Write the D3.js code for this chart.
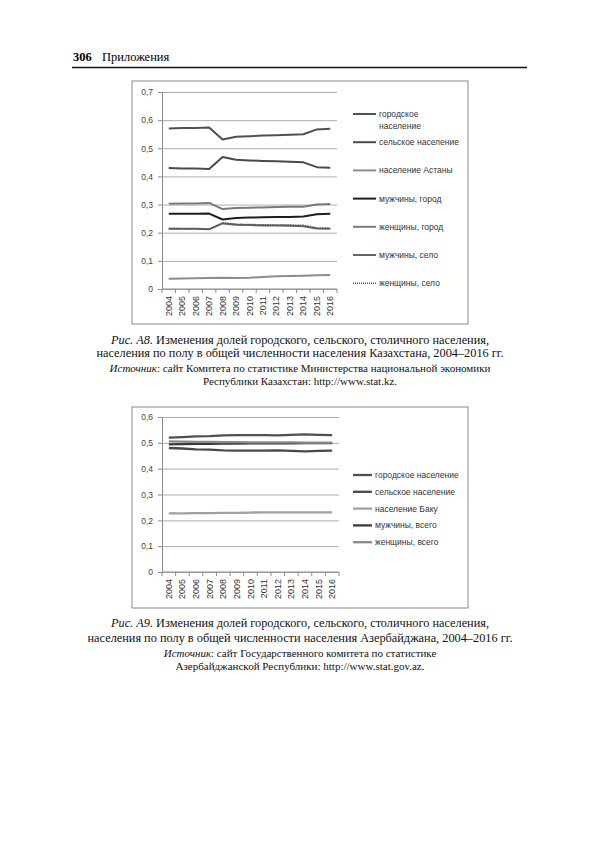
<!DOCTYPE html>
<html>
<head>
<meta charset="utf-8">
<script src="https://cdn.jsdelivr.net/npm/d3@7"></script>
<style>
  body { margin: 0; background: #fff; }
  svg { display: block; }
</style>
</head>
<body>
<script>
// Data
// =================================
var years = ['2004', '2005', '2006', '2007', '2008', '2009', '2010', '2011', '2012', '2013', '2014', '2015', '2016'];

// Kazakhstan
var kzUrban    = [0.570, 0.572, 0.572, 0.574, 0.531, 0.541, 0.543, 0.545, 0.546, 0.548, 0.550, 0.567, 0.569];
var kzRural    = [0.430, 0.428, 0.428, 0.426, 0.469, 0.459, 0.457, 0.455, 0.454, 0.452, 0.450, 0.433, 0.431];
var kzAstana   = [0.036, 0.037, 0.038, 0.039, 0.040, 0.039, 0.040, 0.043, 0.045, 0.046, 0.047, 0.049, 0.050];
var kzMenUrb   = [0.267, 0.267, 0.267, 0.268, 0.247, 0.252, 0.254, 0.255, 0.256, 0.256, 0.258, 0.266, 0.267];
var kzWomenUrb = [0.303, 0.304, 0.304, 0.306, 0.284, 0.288, 0.289, 0.290, 0.291, 0.292, 0.292, 0.300, 0.302];
var kzMenRur   = [0.214, 0.214, 0.214, 0.212, 0.233, 0.228, 0.227, 0.226, 0.226, 0.225, 0.223, 0.215, 0.214];
var kzWomenRur = [0.215, 0.214, 0.214, 0.213, 0.235, 0.230, 0.229, 0.228, 0.227, 0.227, 0.226, 0.217, 0.216];
var kzTicks = [0, 0.1, 0.2, 0.3, 0.4, 0.5, 0.6, 0.7];

// Azerbaijan
var azUrban  = [0.520, 0.522, 0.525, 0.526, 0.529, 0.530, 0.530, 0.530, 0.529, 0.531, 0.533, 0.531, 0.530];
var azRural  = [0.480, 0.478, 0.475, 0.474, 0.471, 0.470, 0.470, 0.470, 0.471, 0.469, 0.467, 0.469, 0.470];
var azBaku   = [0.227, 0.227, 0.228, 0.228, 0.229, 0.229, 0.230, 0.231, 0.231, 0.231, 0.231, 0.231, 0.231];
var azMen    = [0.494, 0.495, 0.496, 0.496, 0.497, 0.497, 0.498, 0.498, 0.498, 0.498, 0.499, 0.499, 0.499];
var azWomen  = [0.506, 0.505, 0.504, 0.504, 0.503, 0.503, 0.502, 0.502, 0.502, 0.502, 0.501, 0.501, 0.501];
var azTicks = [0, 0.1, 0.2, 0.3, 0.4, 0.5, 0.6];

let svg = d3.select('body').append('svg')
  .attr('width', 600)
  .attr('height', 852);

// Page header
// =================================
svg.append('text')
  .attr('x', 73).attr('y', 61)
  .attr('font-family', 'Liberation Serif')
  .attr('font-size', '12.5px')
  .attr('font-weight', 'bold')
  .text('306');
svg.append('text')
  .attr('x', 102).attr('y', 61)
  .attr('font-family', 'Liberation Serif')
  .attr('font-size', '12.5px')
  .text('Приложения');
svg.append('line')
  .attr('x1', 72).attr('x2', 527)
  .attr('y1', 67.5).attr('y2', 67.5)
  .attr('stroke', '#111')
  .attr('stroke-width', 1.3);

var fmt = d => d === 0 ? '0' : d3.format('.1f')(d).replace('.', ',');

// Chart drawing
// =================================
function drawChart(cfg) {
  let g = svg.append('g');

  // frame
  g.append('rect')
    .attr('x', cfg.frame[0]).attr('y', cfg.frame[1])
    .attr('width', cfg.frame[2] - cfg.frame[0])
    .attr('height', cfg.frame[3] - cfg.frame[1])
    .attr('fill', 'none')
    .attr('stroke', '#8a8a8a')
    .attr('stroke-width', 1);

  let x = d3.scalePoint()
    .domain(years)
    .range([cfg.plot.left, cfg.plot.right])
    .padding(0.5);
  let xBand = d3.scaleBand()
    .domain(years)
    .range([cfg.plot.left, cfg.plot.right]);
  let y = d3.scaleLinear()
    .domain([0, d3.max(cfg.ticks)])
    .range([cfg.plot.bottom, cfg.plot.top]);

  // gridlines
  g.append('g')
    .attr('transform', `translate(${cfg.plot.left}, 0)`)
    .call(d3.axisLeft(y)
      .tickValues(cfg.ticks)
      .tickSize(-(cfg.plot.right - cfg.plot.left))
      .tickFormat(''))
    .call(a => a.select('.domain').remove())
    .call(a => a.selectAll('line').attr('stroke', '#9a9a9a').attr('stroke-width', 0.8));

  // y axis
  g.append('g')
    .attr('transform', `translate(${cfg.plot.left}, 0)`)
    .call(d3.axisLeft(y).tickValues(cfg.ticks).tickSize(4).tickPadding(5).tickFormat(fmt))
    .call(a => a.select('.domain').attr('stroke', '#8a8a8a'))
    .call(a => a.selectAll('line').attr('stroke', '#8a8a8a'))
    .call(a => a.selectAll('text')
      .attr('font-family', 'Liberation Sans')
      .attr('font-size', '8.5px')
      .attr('fill', '#444'));

  // x axis with ticks between categories
  let xAxis = g.append('g')
    .attr('transform', `translate(0, ${cfg.plot.bottom})`);
  xAxis.append('line')
    .attr('x1', cfg.plot.left).attr('x2', cfg.plot.right)
    .attr('stroke', '#8a8a8a');
  xAxis.selectAll('.tk')
    .data(years.concat(['end']))
    .enter().append('line')
    .attr('class', 'tk')
    .attr('x1', d => d === 'end' ? cfg.plot.right : xBand(d))
    .attr('x2', d => d === 'end' ? cfg.plot.right : xBand(d))
    .attr('y1', 0).attr('y2', 4)
    .attr('stroke', '#8a8a8a');
  xAxis.selectAll('.lbl')
    .data(years)
    .enter().append('text')
    .attr('class', 'lbl')
    .attr('transform', d => `translate(${x(d) + 3}, 7) rotate(-90)`)
    .attr('text-anchor', 'end')
    .attr('font-family', 'Liberation Sans')
    .attr('font-size', '9px')
    .attr('fill', '#333')
    .text(d => d);

  // lines
  let line = d3.line()
    .x((d, i) => x(years[i]))
    .y(d => y(d));
  cfg.series.forEach(function(s) {
    g.append('path')
      .datum(s.values)
      .attr('fill', 'none')
      .attr('stroke', s.color)
      .attr('stroke-width', s.width || 2)
      .attr('stroke-dasharray', s.dash || null)
      .attr('stroke-linejoin', 'round')
      .attr('d', line);
  });

  // legend
  let leg = g.append('g');
  cfg.series.forEach(function(s, i) {
    let ly = cfg.legend.y + i * cfg.legend.step;
    leg.append('line')
      .attr('x1', cfg.legend.x).attr('x2', cfg.legend.x + cfg.legend.len)
      .attr('y1', ly).attr('y2', ly)
      .attr('stroke', s.color)
      .attr('stroke-width', s.width || 2)
      .attr('stroke-dasharray', s.dash ? '1,1' : null);
    let t = leg.append('text')
      .attr('x', cfg.legend.x + cfg.legend.len + 3)
      .attr('y', ly + 3)
      .attr('font-family', 'Liberation Sans')
      .attr('font-size', '8.5px')
      .attr('fill', '#333');
    s.label.forEach(function(part, j) {
      t.append('tspan')
        .attr('x', cfg.legend.x + cfg.legend.len + 3)
        .attr('dy', j === 0 ? 0 : 12)
        .text(part);
    });
  });
}

drawChart({
  frame: [132, 81, 468, 324],
  plot: { left: 162, right: 337, top: 92, bottom: 289 },
  ticks: kzTicks,
  legend: { x: 353, y: 114, step: 28.2, len: 23 },
  series: [
    { label: ['городское', 'население'], values: kzUrban, color: '#505050' },
    { label: ['сельское население'], values: kzRural, color: '#4a4a4a' },
    { label: ['население Астаны'], values: kzAstana, color: '#8c8c8c' },
    { label: ['мужчины, город'], values: kzMenUrb, color: '#1e1e1e' },
    { label: ['женщины, город'], values: kzWomenUrb, color: '#7a7a7a' },
    { label: ['мужчины, село'], values: kzMenRur, color: '#666' },
    { label: ['женщины, село'], values: kzWomenRur, color: '#555', width: 1.6, dash: '1.5,1' }
  ]
});

drawChart({
  frame: [132, 407, 468, 608],
  plot: { left: 162, right: 339, top: 417, bottom: 572 },
  ticks: azTicks,
  legend: { x: 353, y: 475, step: 16.8, len: 19 },
  series: [
    { label: ['городское население'], values: azUrban, color: '#505050', width: 2.3 },
    { label: ['сельское население'], values: azRural, color: '#4a4a4a', width: 2.3 },
    { label: ['население Баку'], values: azBaku, color: '#a0a0a0', width: 2.3 },
    { label: ['мужчины, всего'], values: azMen, color: '#3a3a3a', width: 2.3 },
    { label: ['женщины, всего'], values: azWomen, color: '#8a8a8a', width: 2.3 }
  ]
});

// Captions
// =================================
function caption(lines, y0) {
  lines.forEach(function(ln, i) {
    let t = svg.append('text')
      .attr('x', 300)
      .attr('y', y0[i])
      .attr('text-anchor', 'middle')
      .attr('font-family', 'Liberation Serif')
      .attr('font-size', ln.size)
      .attr('fill', '#111');
    if (ln.lead) {
      t.append('tspan').attr('font-style', 'italic').text(ln.lead);
    }
    t.append('tspan').text(ln.text);
  });
}

caption([
  { lead: 'Рис. А8.', text: ' Изменения долей городского, сельского, столичного населения,', size: '12.3px' },
  { text: 'населения по полу в общей численности населения Казахстана, 2004–2016 гг.', size: '12.3px' },
  { lead: 'Источник', text: ': сайт Комитета по статистике Министерства национальной экономики', size: '11px' },
  { text: 'Республики Казахстан: http://www.stat.kz.', size: '11px' }
], [344, 357, 372, 385]);

caption([
  { lead: 'Рис. А9.', text: ' Изменения долей городского, сельского, столичного населения,', size: '12.3px' },
  { text: 'населения по полу в общей численности населения Азербайджана, 2004–2016 гг.', size: '12.3px' },
  { lead: 'Источник', text: ': сайт Государственного комитета по статистике', size: '11px' },
  { text: 'Азербайджанской Республики: http://www.stat.gov.az.', size: '11px' }
], [627, 642, 657, 670]);
</script>
</body>
</html>
